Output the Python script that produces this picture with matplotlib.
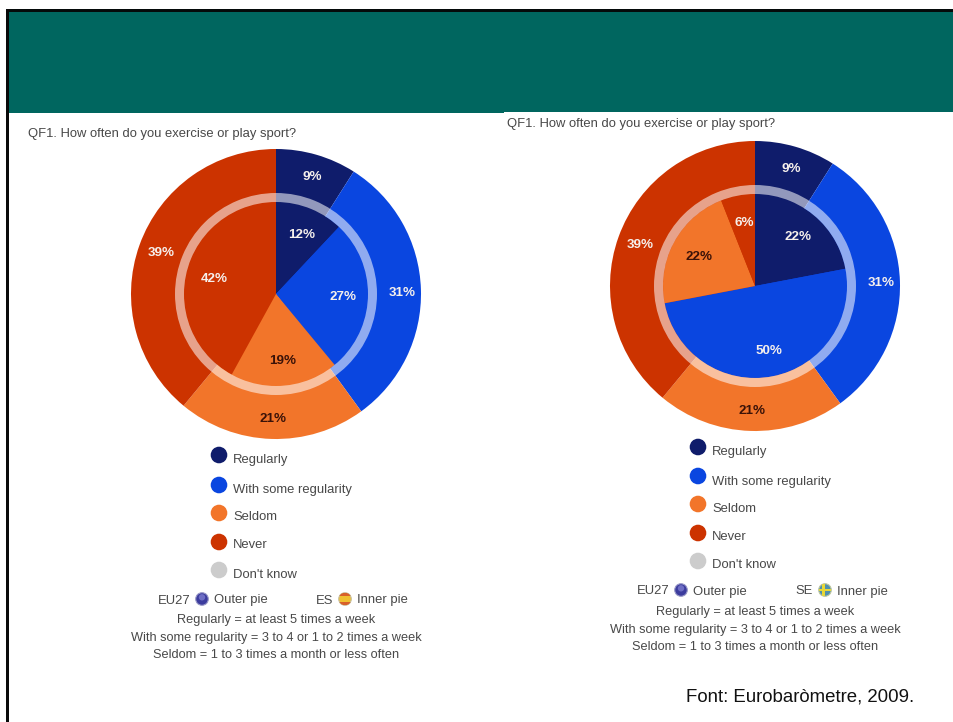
import matplotlib
matplotlib.use("Agg")
import matplotlib.pyplot as plt
from matplotlib.patches import Rectangle, Circle, Wedge

plt.rcParams['font.family'] = ['Liberation Sans', 'DejaVu Sans']

W, H = 954, 722

# Survey shares, clockwise from twelve o'clock: Regularly, With some regularity, Seldom, Never
categories = ["Regularly", "With some regularity", "Seldom", "Never", "Don't know"]
eu27_outer = [9, 31, 21, 39]
es_inner = [12, 27, 19, 42]
se_inner = [22, 50, 22, 6]

question = "QF1. How often do you exercise or play sport?"
definitions = [
    "Regularly = at least 5 times a week",
    "With some regularity = 3 to 4 or 1 to 2 times a week",
    "Seldom = 1 to 3 times a month or less often",
]
source = "Font: Eurobaròmetre, 2009."

COLORS = ["#0F1C6B", "#0A46E0", "#F2752A", "#CC3300"]
KNOW_COLOR = "#CCCCCC"
TEXT = "#484848"
LIGHT = "#F6F0EC"
DARK = "#3A1208"
OUTER_R = 145
INNER_R = 92
RING_R = 101
SMALL = 9.4
NOTE = 9.2

fig = plt.figure(figsize=(W / 100, H / 100), dpi=100, facecolor="white")

# Slide backdrop in pixel coordinates
bg = fig.add_axes([0, 0, 1, 1], zorder=0)
bg.set_xlim(0, W)
bg.set_ylim(H, 0)
bg.axis("off")
bg.add_patch(Rectangle((9, 12), W - 9, 101, fc="#00665F", ec="none"))
bg.add_patch(Rectangle((504, 112), W - 504, 2, fc="white", ec="none"))
bg.add_patch(Rectangle((6, 9), W - 6, 3, fc="#050A0A", ec="none"))
bg.add_patch(Rectangle((6, 9), 3, H - 9, fc="#0A0A0A", ec="none"))

# Transparent layer above the pies for every label
fg = fig.add_axes([0, 0, 1, 1], zorder=3)
fg.set_xlim(0, W)
fg.set_ylim(H, 0)
fg.axis("off")


def put(x, y, s, **kw):
    """Text placed by its optical centre rather than its line box."""
    kw.setdefault("va", "center")
    kw.setdefault("ha", "left")
    kw.setdefault("color", TEXT)
    fg.text(x, y + 1.5, s, **kw)


def donut(cx, cy, outer, inner):
    """Two nested pies plus the pale ring that separates them."""
    ax = fig.add_axes([(cx - OUTER_R) / W, 1 - (cy + OUTER_R) / H,
                       2 * OUTER_R / W, 2 * OUTER_R / H], zorder=1)
    ax.pie(outer, radius=1, colors=COLORS, startangle=90, counterclock=False,
           wedgeprops=dict(linewidth=0))
    ax.pie(inner, radius=INNER_R / OUTER_R, colors=COLORS, startangle=90,
           counterclock=False, wedgeprops=dict(linewidth=0))
    ax.add_patch(Wedge((0, 0), RING_R / OUTER_R, 0, 360,
                       width=(RING_R - INNER_R) / OUTER_R,
                       fc="white", ec="none", alpha=0.55))
    ax.set_xlim(-1, 1)
    ax.set_ylim(-1, 1)


def value_labels(values, spots, colors):
    for v, (x, y), c in zip(values, spots, colors):
        put(x, y, f"{v}%", ha="center", fontsize=9.6, fontweight="bold", color=c)


def badge(x, y, kind):
    """Small round flag icon next to the pie captions."""
    r = 6.3
    clip = Circle((x, y), r, transform=fg.transData)
    if kind == "EU":
        fg.add_patch(Circle((x, y), r, fc="#3C3C9E", ec="#9A9AC8", lw=0.8))
        fg.add_patch(Circle((x, y - 1.7), 3.2, fc="#6E6EC4", ec="none"))
    elif kind == "ES":
        fg.add_patch(Circle((x, y), r, fc="#F0C030", ec="#C8C0A0", lw=0.8))
        for top in (y - r, y + 3.2):
            band = Rectangle((x - r, top), 2 * r, 3.1, fc="#D8602A", ec="none")
            fg.add_patch(band)
            band.set_clip_path(clip)
    else:
        fg.add_patch(Circle((x, y), r, fc="#4E90B0", ec="#C0C8A0", lw=0.8))
        for rect in (Rectangle((x - r, y - 1.4), 2 * r, 2.8, fc="#E8D838", ec="none"),
                     Rectangle((x - 2.8, y - r), 2.8, 2 * r, fc="#E8D838", ec="none")):
            fg.add_patch(rect)
            rect.set_clip_path(clip)


def legend(dot_x, dot_ys, text_x, text_ys):
    swatches = COLORS + [KNOW_COLOR]
    for name, c, dy, ty in zip(categories, swatches, dot_ys, text_ys):
        fg.add_patch(Circle((dot_x, dy), 8.3, fc=c, ec="none"))
        put(text_x, ty, name, fontsize=SMALL)


def captions(y, xs, kind, code):
    eu_x, eu_icon, outer_x, code_x, code_icon, inner_x = xs
    put(eu_x, y, "EU27", fontsize=SMALL)
    badge(eu_icon, y, "EU")
    put(outer_x, y, "Outer pie", fontsize=SMALL)
    put(code_x, y, code, fontsize=SMALL)
    badge(code_icon, y, kind)
    put(inner_x, y, "Inner pie", fontsize=SMALL)


# Left panel: EU27 against Spain
put(28, 132, question, fontsize=9.35)
donut(276, 294, eu27_outer, es_inner)
value_labels(eu27_outer, [(312, 175), (402, 291), (273, 417), (161, 252)],
             [LIGHT, LIGHT, DARK, LIGHT])
value_labels(es_inner, [(302, 233), (343, 296), (283, 359), (214, 278)],
             [LIGHT, LIGHT, DARK, LIGHT])
legend(219, [455, 485, 513, 542, 570], 233, [458, 488, 516, 544, 573])
captions(599, (158, 202, 214, 316, 345, 357), "ES", "ES")
for line, y in zip(definitions, [619, 637, 654]):
    put(276, y, line, ha="center", fontsize=NOTE)

# Right panel: EU27 against Sweden
put(507, 123, question, fontsize=9.35)
donut(755, 286, eu27_outer, se_inner)
value_labels(eu27_outer, [(791, 167), (881, 282), (752, 409), (640, 244)],
             [LIGHT, LIGHT, DARK, LIGHT])
value_labels(se_inner, [(798, 235), (769, 350), (699, 255), (744, 221)],
             [LIGHT, LIGHT, DARK, LIGHT])
legend(698, [447, 476, 504, 533, 561], 712, [450, 480, 507, 536, 564])
captions(590, (637, 681, 693, 795, 825, 837), "SE", "SE")
for line, y in zip(definitions, [610, 628, 646]):
    put(755, y, line, ha="center", fontsize=NOTE)

put(686, 696, source, fontsize=13.4, color="#111111")

fig.savefig("out.png", dpi=100)
